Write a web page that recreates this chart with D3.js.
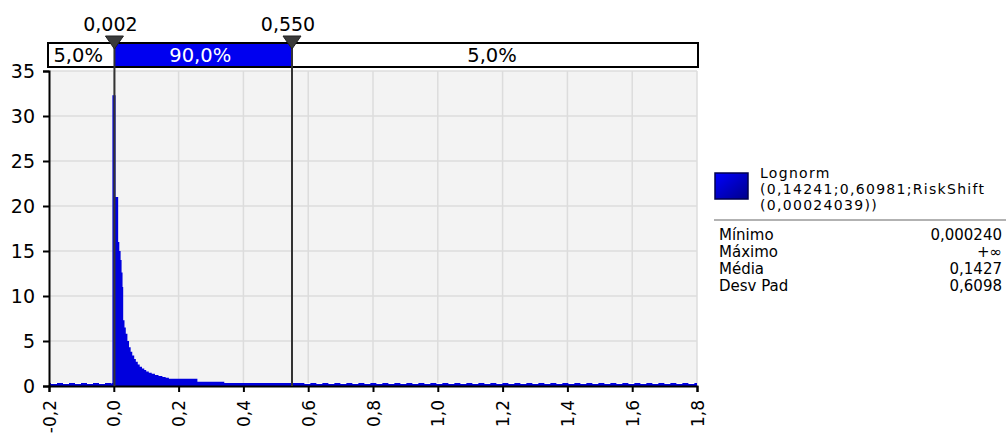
<!DOCTYPE html>
<html><head><meta charset="utf-8">
<script src="https://cdn.jsdelivr.net/npm/d3@7"></script>
<style>
body{margin:0;background:#fff;}
text{font-family:"DejaVu Sans",Verdana,sans-serif;}
</style></head>
<body><svg id="c" width="1006" height="433"></svg>
<script>
// ---- data ----
const densX = [-0.0043, 0.0055, 0.0135, 0.017, 0.021, 0.024, 0.027, 0.029, 0.033, 0.037, 0.042, 0.047, 0.052, 0.057, 0.063, 0.068, 0.074, 0.080, 0.087, 0.094, 0.100, 0.108, 0.117, 0.127, 0.138, 0.150, 0.160, 0.170, 0.258, 0.341, 0.582];
const densY = [32.3, 21.0, 16.0, 15.0, 14.0, 12.6, 11.0, 7.3, 6.5, 5.8, 5.0, 4.3, 3.8, 3.4, 3.0, 2.7, 2.4, 2.15, 1.95, 1.78, 1.62, 1.48, 1.35, 1.22, 1.1, 1.0, 0.92, 0.8, 0.48, 0.28, 0];
const xTicks = [-0.2, 0, 0.2, 0.4, 0.6, 0.8, 1.0, 1.2, 1.4, 1.6, 1.8];
const yTicks = [0, 5, 10, 15, 20, 25, 30, 35];
const markers = [0.002, 0.550];
const markerLabels = ["0,002", "0,550"];
const bandLabels = ["5,0%", "90,0%", "5,0%"];
const legendTitle = ["Lognorm", "(0,14241;0,60981;RiskShift", "(0,00024039))"];
const statNames = ["Mínimo", "Máximo", "Média", "Desv Pad"];
const statValues = ["0,000240", "+∞", "0,1427", "0,6098"];

// ---- layout ----
const svg = d3.select("#c");
const L = 49, R = 697, T = 71, B = 386;
const x = d3.scaleLinear().domain([-0.2, 1.8]).range([L, R]);
const y = d3.scaleLinear().domain([0, 35]).range([B, T]);
const fmt = v => d3.format(".1f")(v).replace(".", ",").replace("\u2212", "-");

svg.append("rect").attr("x", L).attr("y", T).attr("width", R - L).attr("height", B - T).attr("fill", "#f3f3f3");

// grid
svg.append("g").selectAll("line").data(yTicks.slice(1)).join("line")
  .attr("x1", L).attr("x2", R).attr("y1", d => y(d)).attr("y2", d => y(d))
  .attr("stroke", "#dcdcdc").attr("stroke-width", 1.5);
svg.append("g").selectAll("line").data(xTicks.slice(1)).join("line")
  .attr("y1", T).attr("y2", B).attr("x1", d => x(d)).attr("x2", d => x(d))
  .attr("stroke", "#dcdcdc").attr("stroke-width", 1.5);

// density area
const pts = densX.map((d, i) => [d, densY[i]]);
svg.append("path").datum(pts)
  .attr("d", d3.area().curve(d3.curveStepAfter).x(d => x(d[0])).y0(y(0)).y1(d => y(d[1])))
  .attr("fill", "#0000dd");

// dashed baseline
svg.append("line").attr("x1", L).attr("x2", R).attr("y1", B - 1.5).attr("y2", B - 1.5)
  .attr("stroke", "#0000dd").attr("stroke-width", 3);
svg.append("line").attr("x1", L + 2).attr("x2", x(densX[0]) - 1).attr("y1", B - 2.5).attr("y2", B - 2.5)
  .attr("stroke", "#fff").attr("stroke-width", 1.2).attr("stroke-dasharray", "6,6");
svg.append("line").attr("x1", x(0.582) + 2).attr("x2", R).attr("y1", B - 2.5).attr("y2", B - 2.5)
  .attr("stroke", "#fff").attr("stroke-width", 1.2).attr("stroke-dasharray", "6,6");

// axes
const yAxis = svg.append("g").attr("transform", `translate(${L},0)`)
  .call(d3.axisLeft(y).tickValues(yTicks).tickSize(6).tickFormat(d => d));
const xAxis = svg.append("g").attr("transform", `translate(0,${B})`)
  .call(d3.axisBottom(x).tickValues(xTicks).tickSize(6).tickFormat(fmt));
[yAxis, xAxis].forEach(a => {
  a.select(".domain").attr("stroke", "#000").attr("stroke-width", 2);
  a.selectAll(".tick line").attr("stroke", "#000").attr("stroke-width", 2);
  a.selectAll("text").attr("fill", "#000").style("font-family", "DejaVu Sans");
});
yAxis.selectAll("text").attr("font-size", 19).attr("x", -14).attr("dy", "0.36em");
xAxis.selectAll("text").attr("font-size", 17).attr("transform", "rotate(-90)").attr("text-anchor", "end")
  .attr("x", -14).attr("y", 0).attr("dy", "0.36em");

// percentage band
const bandY = 43, bandH = 24;
const edges = [L - 1, x(markers[0]), x(markers[1]), R + 1];
for (let i = 0; i < 3; i++) {
  svg.append("rect").attr("x", edges[i]).attr("y", bandY).attr("width", edges[i + 1] - edges[i]).attr("height", bandH)
    .attr("fill", i === 1 ? "#0000f0" : "#fff");
  svg.append("text").attr("x", (edges[i] + edges[i + 1]) / 2 - 3).attr("y", bandY + bandH / 2).attr("dy", "0.36em")
    .attr("text-anchor", "middle").attr("font-size", 19.5).attr("fill", i === 1 ? "#fff" : "#000").text(bandLabels[i]);
}
svg.append("rect").attr("x", edges[0]).attr("y", bandY).attr("width", edges[3] - edges[0]).attr("height", bandH)
  .attr("fill", "none").attr("stroke", "#000").attr("stroke-width", 2);

// markers
markers.forEach((m, i) => {
  const mx = x(m);
  svg.append("line").attr("x1", mx).attr("x2", mx).attr("y1", bandY).attr("y2", B)
    .attr("stroke", "#333").attr("stroke-width", 2);
  svg.append("path").attr("d", `M${mx - 9},36 L${mx + 9},36 L${mx},49 Z`).attr("fill", "#3a3a3a").attr("stroke", "#222");
  svg.append("text").attr("x", mx - 4).attr("y", 24).attr("dy", "0.36em").attr("text-anchor", "middle")
    .attr("font-size", 19).text(markerLabels[i]);
});

// legend
const grad = svg.append("defs").append("linearGradient").attr("id", "lg").attr("x1", 0).attr("y1", 0).attr("x2", 1).attr("y2", 1);
grad.append("stop").attr("offset", 0).attr("stop-color", "#0000ff");
grad.append("stop").attr("offset", 1).attr("stop-color", "#00008a");
svg.append("rect").attr("x", 715).attr("y", 173).attr("width", 33).attr("height", 26)
  .attr("fill", "url(#lg)").attr("stroke", "#000050").attr("stroke-width", 1.5);
legendTitle.forEach((t, i) => {
  svg.append("text").attr("x", 760).attr("y", 172.5 + i * 16).attr("dy", "0.36em").attr("font-size", 14)
    .attr("letter-spacing", 1.3).text(t);
});
svg.append("line").attr("x1", 714).attr("x2", 1006).attr("y1", 220).attr("y2", 220).attr("stroke", "#999").attr("stroke-width", 1.5);
statNames.forEach((t, i) => {
  const yy = 235 + i * 16.7;
  svg.append("text").attr("x", 719).attr("y", yy).attr("dy", "0.36em").attr("font-size", 15).text(t);
  svg.append("text").attr("x", 1002).attr("y", yy).attr("dy", "0.36em").attr("font-size", 15).attr("text-anchor", "end").text(statValues[i]);
});
</script></body></html>
